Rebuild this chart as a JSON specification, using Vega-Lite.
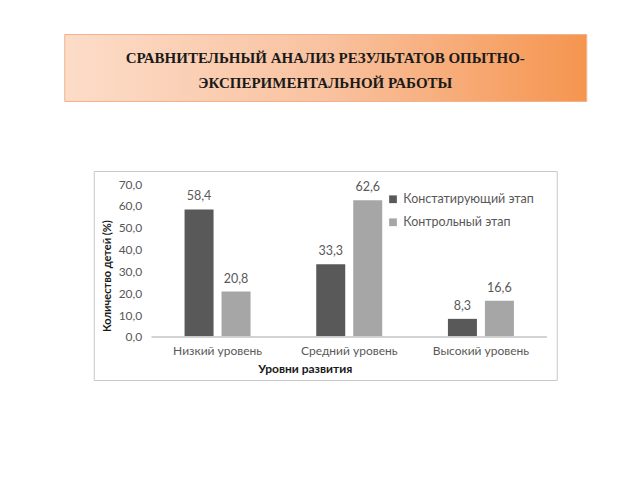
{
  "$schema": "https://vega.github.io/schema/vega-lite/v6.json",
  "background": "white",
  "padding": {"left": 63, "top": 33, "right": 5, "bottom": 5},
  "config": {
    "locale": {"number": {"decimal": ",", "thousands": " ", "grouping": [3], "currency": ["", ""]}},
    "font": "Lato",
    "concat": {"spacing": 68},
    "axis": {"labelOverlap": false, "labelBound": false, "labelFlush": false}
  },
  "datasets": {
    "titleLines": [
      {"line": 1, "text": "СРАВНИТЕЛЬНЫЙ АНАЛИЗ РЕЗУЛЬТАТОВ ОПЫТНО-"},
      {"line": 2, "text": "ЭКСПЕРИМЕНТАЛЬНОЙ РАБОТЫ"}
    ],
    "results": [
      {"level": "Низкий уровень", "stage": "Констатирующий этап", "value": 58.4},
      {"level": "Низкий уровень", "stage": "Контрольный этап", "value": 20.8},
      {"level": "Средний уровень", "stage": "Констатирующий этап", "value": 33.3},
      {"level": "Средний уровень", "stage": "Контрольный этап", "value": 62.6},
      {"level": "Высокий уровень", "stage": "Констатирующий этап", "value": 8.3},
      {"level": "Высокий уровень", "stage": "Контрольный этап", "value": 16.6}
    ]
  },
  "center": true,
  "resolve": {"legend": {"color": "independent"}, "scale": {"color": "independent"}},
  "vconcat": [
    {
      "width": 522,
      "height": 67,
      "view": {
        "fill": {"gradient": "linear", "x1": 0, "y1": 0, "x2": 1, "y2": 0,
          "stops": [{"offset": 0, "color": "#FCDCC8"}, {"offset": 0.5, "color": "#F9C2A0"}, {"offset": 1, "color": "#F5954F"}]},
        "stroke": "#F2B38C"
      },
      "data": {"name": "titleLines"},
      "mark": {"type": "text", "font": "Liberation Serif", "fontSize": 15, "fontWeight": "bold", "color": "#1a1a1a", "baseline": "middle"},
      "encoding": {
        "y": {"field": "line", "type": "ordinal", "axis": null, "scale": {"type": "point", "padding": 0.84, "align": 0.57}},
        "text": {"field": "text"}
      }
    },
    {
      "width": 463,
      "height": 209,
      "view": {"stroke": "#C8C8C8", "strokeWidth": 1},
      "data": {"name": "results"},
      "encoding": {
        "x": {
          "field": "level", "type": "nominal", "sort": null,
          "scale": {"paddingInner": 0, "paddingOuter": 0.258, "align": 0.853},
          "axis": {"offset": -43, "domain": false, "ticks": false, "labelAngle": 0, "labelPadding": 8,
            "labelFontSize": 12, "labelColor": "#595959", "title": "Уровни развития",
            "titleFontSize": 12, "titleFontWeight": "bold", "titleColor": "#1a1a1a",
            "titleX": 211, "titleY": 31, "titleBaseline": "middle"}
        },
        "y": {"field": "value", "type": "quantitative",
          "scale": {"domain": [-19.7, 76], "nice": false, "zero": false},
          "axis": {"values": [0, 10, 20, 30, 40, 50, 60, 70], "format": ".1f", "offset": -58,
            "domain": false, "ticks": false, "grid": false, "labelPadding": 10, "labelOverlap": false,
            "labelFontSize": 12, "labelColor": "#595959",
            "title": "Количество детей (%)", "titleFontSize": 11, "titleFontWeight": "bold",
            "titleColor": "#1a1a1a", "titlePadding": 6}}
      },
      "layer": [
        {
          "mark": {"type": "bar"},
          "encoding": {
            "xOffset": {"field": "stage", "type": "nominal", "sort": null,
              "scale": {"paddingInner": 0.216, "paddingOuter": 0.888}},
            "y2": {"datum": 0},
            "color": {"field": "stage", "type": "nominal", "sort": null,
              "scale": {"range": ["#595959", "#A6A6A6"]},
              "legend": {"title": null, "orient": "top-right", "offset": 18, "symbolType": "square",
                "symbolSize": 60, "labelFontSize": 12.5, "labelColor": "#595959", "rowPadding": 10,
                "labelLimit": 300, "padding": 4}}
          }
        },
        {
          "mark": {"type": "text", "baseline": "bottom", "dy": -6, "fontSize": 12.5, "color": "#595959"},
          "encoding": {
            "xOffset": {"field": "stage", "type": "nominal", "sort": null},
            "text": {"field": "value", "type": "quantitative", "format": ".1f"}
          }
        },
        {
          "mark": {"type": "rect", "stroke": "#D0D0D0", "strokeWidth": 1, "fill": null},
          "encoding": {
            "y": {"datum": 0, "type": "quantitative",
              "axis": {"values": [0, 10, 20, 30, 40, 50, 60, 70], "format": ".1f", "offset": -58,
                "domain": false, "ticks": false, "grid": false, "labelPadding": 10, "labelOverlap": false,
                "labelFontSize": 12, "labelColor": "#595959",
                "title": "Количество детей (%)", "titleFontSize": 11, "titleFontWeight": "bold",
                "titleColor": "#1a1a1a", "titlePadding": 6}},
            "y2": {"datum": 0}
          }
        }
      ]
    }
  ]
}
